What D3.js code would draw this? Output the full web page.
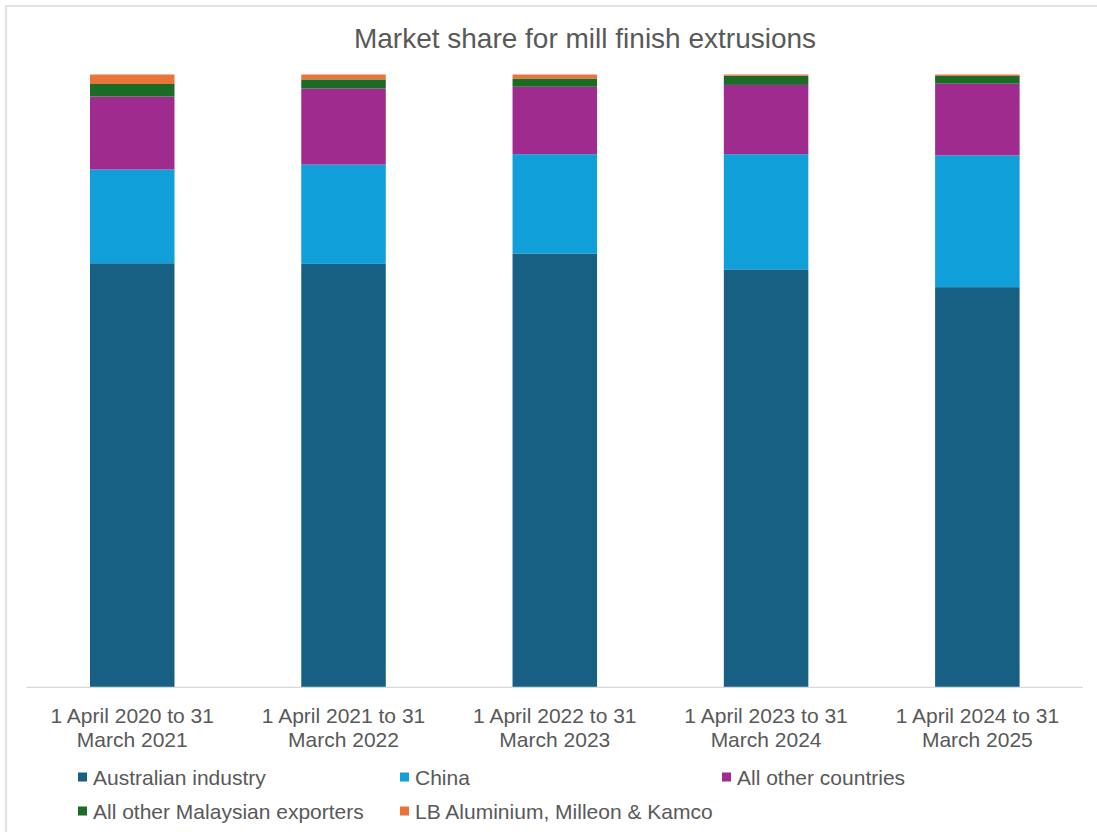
<!DOCTYPE html>
<html>
<head>
<meta charset="utf-8">
<script src="https://cdn.jsdelivr.net/npm/d3@7"></script>
<style>
html,body{margin:0;padding:0;background:#fff;}
svg{display:block;font-family:"Liberation Sans",Arial,sans-serif;}
</style>
</head>
<body>
<svg id="chart" width="1097" height="832"></svg>
<script>
const categories = [
  ["1 April 2020 to 31", "March 2021"],
  ["1 April 2021 to 31", "March 2022"],
  ["1 April 2022 to 31", "March 2023"],
  ["1 April 2023 to 31", "March 2024"],
  ["1 April 2024 to 31", "March 2025"]
];
const seriesNames = ["Australian industry", "China", "All other countries", "All other Malaysian exporters", "LB Aluminium, Milleon & Kamco"];
const australian = [69.2, 69.1, 70.8, 68.2, 65.3];
const china = [15.3, 16.2, 16.2, 18.8, 21.5];
const otherCountries = [11.9, 12.4, 11.0, 11.3, 11.7];
const otherMalaysian = [2.05, 1.5, 1.35, 1.5, 1.27];
const lbKamco = [1.55, 0.8, 0.65, 0.2, 0.23];
const colors = ["#175f83", "#109fd8", "#a02b8f", "#1b6b26", "#e9743a"];
const title = "Market share for mill finish extrusions";

const svg = d3.select("#chart");
// outer border
svg.append("rect").attr("x", 6).attr("y", 6).attr("width", 1200).attr("height", 1000)
  .attr("fill", "none").attr("stroke", "#d9d9d9").attr("stroke-width", 1.5);

const margin = {left: 26.6, right: 1083, top: 74.5, bottom: 687.3};
const seriesData = [australian, china, otherCountries, otherMalaysian, lbKamco];
const rows = categories.map((c, i) => {
  const r = {idx: i};
  seriesNames.forEach((s, j) => r[s] = seriesData[j][i]);
  return r;
});
const stack = d3.stack().keys(seriesNames)(rows);

const x = d3.scaleBand().domain(d3.range(categories.length)).range([margin.left, margin.right]).paddingInner(0.6).paddingOuter(0.3);
const y = d3.scaleLinear().domain([0, 100]).range([margin.bottom, margin.top]);

svg.append("text").attr("x", 585).attr("y", 48).attr("text-anchor", "middle")
  .attr("font-size", 28).attr("fill", "#595959").text(title);

stack.forEach((layer, j) => {
  svg.append("g").attr("fill", colors[j]).selectAll("rect").data(layer).join("rect")
    .attr("x", (d, i) => x(i))
    .attr("width", x.bandwidth())
    .attr("y", d => y(d[1]))
    .attr("height", d => y(d[0]) - y(d[1]));
});

const xAxis = d3.axisBottom(x).tickSize(0).tickFormat(() => "");
const ax = svg.append("g").attr("transform", `translate(0,${margin.bottom})`).call(xAxis);
ax.select(".domain").attr("stroke", "#d9d9d9").attr("stroke-width", 1.3).attr("d", `M${margin.left},0H${margin.right}`);
ax.selectAll(".tick").each(function(d) {
  const t = d3.select(this).append("text").attr("fill", "#595959").attr("font-size", 21)
    .attr("text-anchor", "middle");
  t.append("tspan").attr("x", 0).attr("y", 36).text(categories[d][0]);
  t.append("tspan").attr("x", 0).attr("y", 59.5).text(categories[d][1]);
});

const legendPos = [[78, 777], [400, 777], [722, 777], [78, 811], [400, 811]];
const lg = svg.append("g");
seriesNames.forEach((s, j) => {
  const [lx, ly] = legendPos[j];
  lg.append("rect").attr("x", lx).attr("y", ly - 4.5).attr("width", 9).attr("height", 9).attr("fill", colors[j]);
  lg.append("text").attr("x", lx + 15).attr("y", ly + 7.5).attr("font-size", 21).attr("fill", "#595959").text(s);
});
</script>
</body>
</html>
